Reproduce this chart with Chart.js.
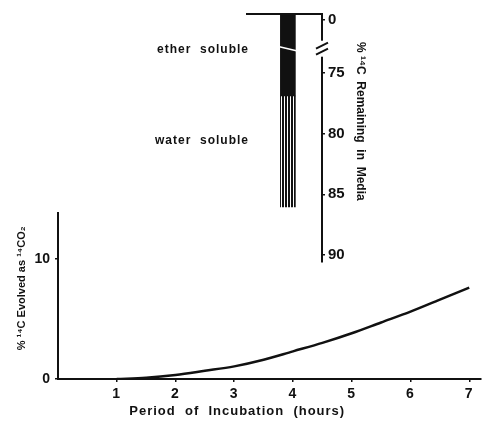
<!DOCTYPE html>
<html>
<head>
<meta charset="utf-8">
<script src="https://cdn.jsdelivr.net/npm/chart.js@4.4.1/dist/chart.umd.min.js"></script>
<style>
  html, body { margin: 0; padding: 0; background: #fff; }
  #wrap { position: relative; width: 484px; height: 426px; }
  #wrap canvas { position: absolute; left: 0; top: 0; }
</style>
</head>
<body>
<div id="wrap">
  <canvas id="evolved" width="484" height="426"></canvas>
  <canvas id="remaining" width="484" height="426"></canvas>
</div>
<script>
// lower panel: 14CO2 evolved over time
const hours = [1, 1.5, 2, 2.5, 3, 3.5, 4, 4.5, 5, 5.5, 6, 6.5, 7]
const evolvedCO2 = [0, 0.1, 0.33, 0.68, 1.05, 1.6, 2.3, 3.0, 3.8, 4.7, 5.6, 6.6, 7.6]
const hourTicks = [1, 2, 3, 4, 5, 6, 7]
const evolvedTicks = [0, 10]

// upper panel: what is left in the media (broken axis, 0 then 75..90)
const fractions = ['ether soluble', 'water soluble']
const fractionFrom = [0, 76.9]
const fractionTo = [76.9, 86.05]
const fractionLabelAt = [73.1, 80.6]
const remainingTicks = [0, 75, 80, 85, 90]

const AXIS_TOP = 70.14
const ZERO_LABEL_AT = 70.6
const BREAK_MID = 73.0
const onAxis = v => (v < 75 ? AXIS_TOP : v)

const INK = '#111'
const TICKS = "'Liberation Sans Narrow', 'Liberation Sans', Arial, sans-serif"
const WIDE = "'Liberation Sans', 'DejaVu Sans', sans-serif"

function stripes() {
  const c = document.createElement('canvas')
  c.width = 3
  c.height = 1
  const g = c.getContext('2d')
  g.fillStyle = '#fff'
  g.fillRect(0, 0, 3, 1)
  g.fillStyle = INK
  g.fillRect(0, 0, 2, 1)
  return g.createPattern(c, 'repeat')
}

// spread the letters of the x axis a little, like the typed original;
// the y axis layers have z: 1 so they are drawn after this is switched off
const spacing = {
  id: 'spacing',
  beforeDraw(chart) { chart.ctx.letterSpacing = '1px' },
  afterDatasetsDraw(chart) { chart.ctx.letterSpacing = '0px' },
}

new Chart(document.getElementById('evolved'), {
  type: 'line',
  data: {
    datasets: [{
      data: hours.map((h, i) => ({ x: h, y: evolvedCO2[i] })),
      borderColor: INK,
      borderWidth: 2.5,
      pointRadius: 0,
      cubicInterpolationMode: 'monotone',
      fill: false,
    }],
  },
  options: {
    responsive: false,
    animation: false,
    layout: { padding: { top: 213, right: 3 } },
    plugins: { legend: { display: false }, tooltip: { enabled: false } },
    scales: {
      x: {
        type: 'linear',
        min: 0,
        max: 7.2,
        afterBuildTicks: s => { s.ticks = hourTicks.map(v => ({ value: v })) },
        afterFit: s => { s.height = 47 },
        grid: { drawOnChartArea: false, tickLength: 3, color: INK, lineWidth: 1.5 },
        border: { color: INK, width: 2 },
        ticks: { color: INK, font: { family: TICKS, size: 14, weight: 'bold' }, padding: 4, maxRotation: 0 },
        title: {
          display: true,
          text: 'Period  of  Incubation  (hours)' + ' '.repeat(14),
          color: INK,
          font: { family: WIDE, size: 13, weight: 'bold' },
          padding: { top: 0, bottom: 7 },
        },
      },
      y: {
        min: 0,
        max: 13.8,
        afterBuildTicks: s => { s.ticks = evolvedTicks.map(v => ({ value: v })) },
        afterFit: s => { s.width = 58 },
        grid: { z: 1, drawOnChartArea: false, tickLength: 3, color: INK, lineWidth: 1.5 },
        border: { z: 1, color: INK, width: 2 },
        ticks: { z: 1, color: INK, font: { family: TICKS, size: 14, weight: 'bold' }, padding: 5 },
        title: {
          display: true,
          text: ' '.repeat(5) + '% \u00b9\u2074C Evolved as \u00b9\u2074CO\u2082',
          color: INK,
          font: { family: WIDE, size: 11, weight: 'bold' },
          padding: { top: 15, bottom: 0 },
        },
      },
    },
  },
  plugins: [spacing],
})

const remainingMarks = {
  id: 'remainingMarks',
  afterDraw(chart) {
    const { ctx, chartArea, scales: { y } } = chart
    const xa = y.left
    const yb = y.getPixelForValue(BREAK_MID)
    ctx.save()
    // gap in the axis with the // break
    ctx.fillStyle = '#fff'
    ctx.fillRect(xa - 3, yb - 8, 6, 16)
    ctx.strokeStyle = INK
    ctx.lineWidth = 2
    ctx.beginPath()
    ctx.moveTo(xa - 6, yb)
    ctx.lineTo(xa + 6, yb - 6)
    ctx.moveTo(xa - 6, yb + 6)
    ctx.lineTo(xa + 6, yb)
    ctx.stroke()
    // same break carried across the bar
    const bar = chart.getDatasetMeta(0).data[0]
    ctx.strokeStyle = '#fff'
    ctx.lineWidth = 1.5
    ctx.beginPath()
    ctx.moveTo(bar.x - bar.width / 2 - 1, yb - 2)
    ctx.lineTo(bar.x + bar.width / 2 + 1, yb + 2)
    ctx.stroke()
    // fraction names
    ctx.fillStyle = INK
    ctx.font = 'bold 12px ' + WIDE
    ctx.letterSpacing = '1px'
    ctx.textAlign = 'right'
    ctx.textBaseline = 'middle'
    fractions.forEach((name, i) => {
      ctx.fillText(name.replace(' ', '  '), chartArea.left + 2, y.getPixelForValue(fractionLabelAt[i]))
    })
    ctx.restore()
  },
}

new Chart(document.getElementById('remaining'), {
  type: 'bar',
  data: {
    datasets: fractions.map((name, i) => ({
      label: name,
      data: [{ x: 0.59, y: [onAxis(fractionFrom[i]), fractionTo[i]] }],
      backgroundColor: i ? stripes() : INK,
      borderWidth: 0,
      barThickness: 15,
      grouped: false,
    })),
  },
  options: {
    responsive: false,
    animation: false,
    layout: { padding: { left: 247, top: 14, right: 116, bottom: 164 } },
    plugins: { legend: { display: false }, tooltip: { enabled: false } },
    scales: {
      x: {
        type: 'linear',
        position: 'top',
        min: 0,
        max: 1,
        ticks: { display: false },
        grid: { display: false, drawTicks: false },
        border: { color: INK, width: 2 },
      },
      y: {
        position: 'right',
        reverse: true,
        min: AXIS_TOP,
        max: 90.58,
        afterBuildTicks: s => {
          s.ticks = remainingTicks.map(v => ({ value: v < 75 ? ZERO_LABEL_AT : v }))
        },
        afterFit: s => { s.width = 46 },
        grid: { drawOnChartArea: false, tickLength: 3, color: INK, lineWidth: 1.5 },
        border: { color: INK, width: 2 },
        ticks: {
          color: INK,
          font: { family: TICKS, size: 15, weight: 'bold' },
          padding: 3,
          callback: v => (v < 75 ? '0' : String(v)),
        },
        title: {
          display: true,
          text: '% \u00b9\u2074C  Remaining  in  Media' + ' '.repeat(10),
          color: INK,
          font: { family: WIDE, size: 12, weight: 'bold' },
          padding: 0,
        },
      },
    },
  },
  plugins: [remainingMarks],
})
</script>
</body>
</html>
